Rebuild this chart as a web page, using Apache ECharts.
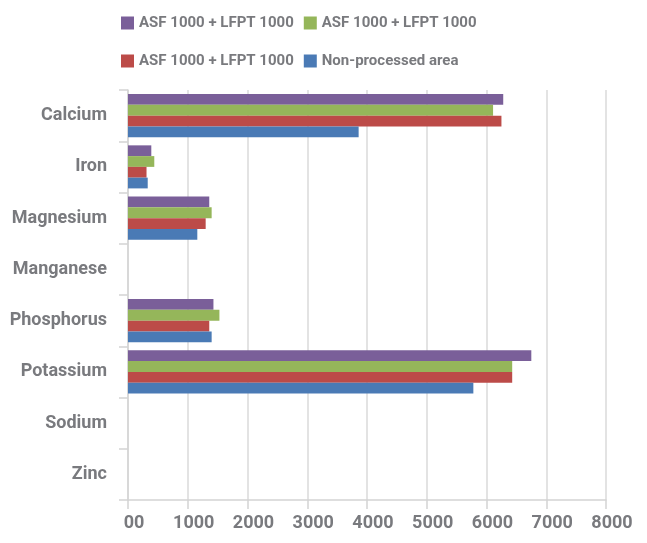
<!DOCTYPE html>
<html>
<head>
<meta charset="utf-8">
<script src="https://cdn.jsdelivr.net/npm/echarts@6/dist/echarts.min.js"></script>
<style>
html,body{margin:0;padding:0;background:#fff;}
#chart{width:647px;height:543px;}
</style>
</head>
<body>
<div id="chart"></div>
<script>
const categories = ['Calcium','Iron','Magnesium','Manganese','Phosphorus','Potassium','Sodium','Zinc'];
const seriesNames = ['ASF 1000 + LFPT 1000','ASF 1000 + LFPT 1000','ASF 1000 + LFPT 1000','Non-processed area'];
const seriesColors = ['#7a5f99','#95b65a','#bc4b48','#4a7ab5'];
const purpleValues = [6280, 390, 1360, 0, 1430, 6750, 0, 0];
const greenValues  = [6110, 440, 1400, 0, 1530, 6430, 0, 0];
const redValues    = [6250, 310, 1300, 0, 1360, 6430, 0, 0];
const blueValues   = [3860, 330, 1160, 0, 1400, 5780, 0, 0];
const xTickLabels = ['00','1000','2000','3000','4000','5000','6000','7000','8000'];

const allValues = [purpleValues, greenValues, redValues, blueValues];
const FONT = 'Roboto, "Noto Sans", sans-serif';
const TXT = '#797a7e';

const series = allValues.map((vals, i) => ({
  name: seriesNames[i] + '|' + i,
  type: 'bar',
  data: vals,
  barGap: '0%',
  barCategoryGap: '16%',
  itemStyle: { color: seriesColors[i] }
}));

const chart = echarts.init(document.getElementById('chart'), null, { renderer: 'canvas' });
chart.setOption({
  animation: false,
  backgroundColor: '#fff',
  legend: {
    left: 116,
    top: 4,
    width: 360,
    itemWidth: 13,
    itemHeight: 13,
    itemGap: 10,
    icon: 'rect',
    data: series.map(s => s.name),
    formatter: name => name.split('|')[0],
    textStyle: { fontFamily: FONT, fontWeight: 'bold', fontSize: 15, color: TXT, lineHeight: 28 }
  },
  grid: { left: 128, right: 41, top: 90, bottom: 43, containLabel: false, outerBoundsMode: 'none' },
  xAxis: {
    type: 'value',
    min: 0, max: 8000, interval: 1000,
    axisLine: { show: true, lineStyle: { color: '#d4d4d4', width: 1.5 } },
    axisTick: { show: true, length: 9, lineStyle: { color: '#d4d4d4', width: 1.5 } },
    splitLine: { show: true, lineStyle: { color: '#dadada', width: 1.5 } },
    axisLabel: {
      margin: 14,
      padding: [0, 0, 0, 12],
      fontFamily: FONT, fontWeight: 'bold', fontSize: 18, color: TXT,
      formatter: v => xTickLabels[Math.round(v / 1000)]
    }
  },
  yAxis: {
    type: 'category',
    inverse: true,
    data: categories,
    axisLine: { show: true, lineStyle: { color: '#d4d4d4', width: 1.5 } },
    axisTick: { show: true, length: 9, lineStyle: { color: '#d4d4d4', width: 1.5 } },
    axisLabel: { margin: 21, fontFamily: FONT, fontWeight: 'bold', fontSize: 18, color: TXT }
  },
  series: series
});
</script>
</body>
</html>
